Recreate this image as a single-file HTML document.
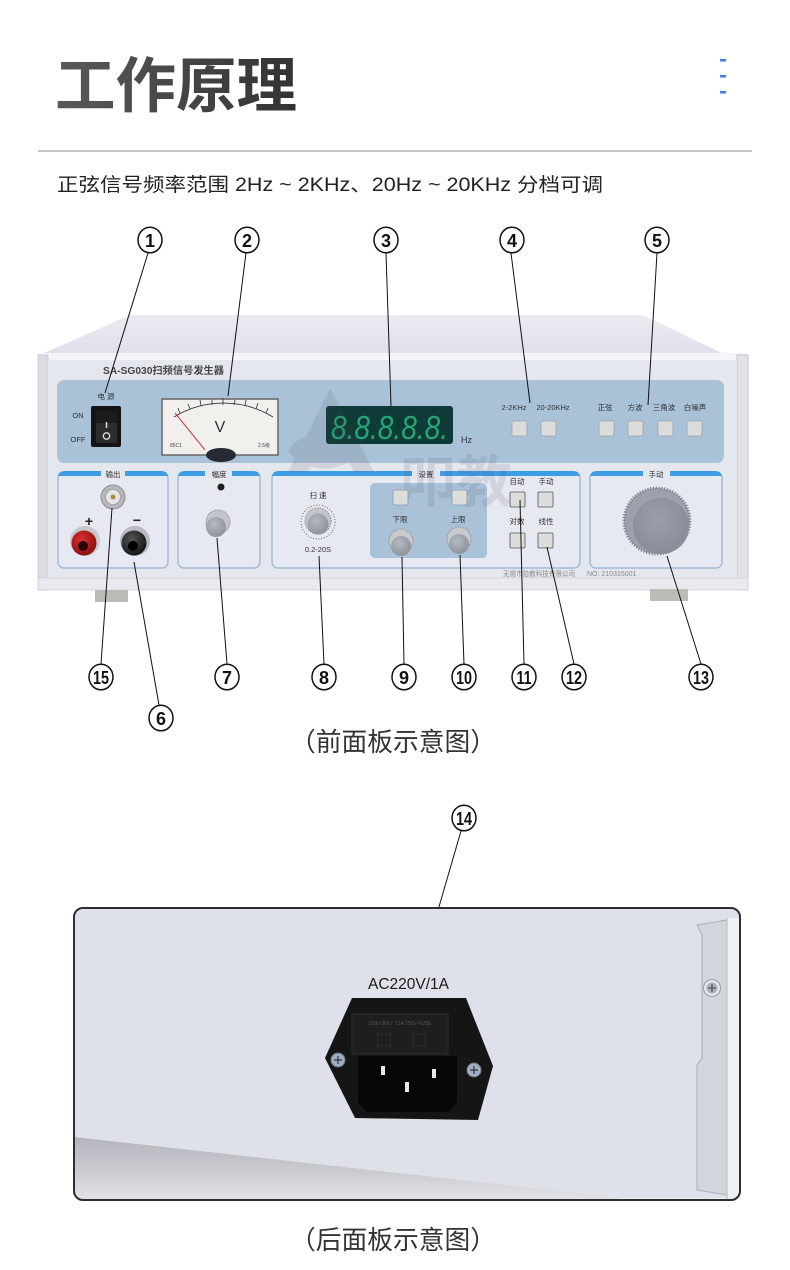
<!DOCTYPE html>
<html><head><meta charset="utf-8">
<style>
html,body{margin:0;padding:0;background:#fff;}
svg{display:block;}
text{font-family:"Liberation Sans","Noto Sans CJK SC",sans-serif;}
.cjk{font-family:"Liberation Sans","Noto Sans CJK SC",sans-serif;}
.num{font-family:"Liberation Sans",sans-serif;font-weight:bold;font-size:18px;fill:#111;text-anchor:middle;}
.lbl{font-size:7.5px;fill:#333;text-anchor:middle;}
</style></head>
<body>
<svg width="790" height="1270" viewBox="0 0 790 1270" xmlns="http://www.w3.org/2000/svg">
<defs>
<linearGradient id="topg" x1="0" y1="0" x2="0" y2="1"><stop offset="0" stop-color="#ebebf3"/><stop offset="1" stop-color="#e0e0eb"/></linearGradient>
<linearGradient id="titleg" x1="0" y1="0" x2="1" y2="0"><stop offset="0" stop-color="#5a5a5a"/><stop offset="1" stop-color="#333"/></linearGradient>
<linearGradient id="shad" x1="0" y1="0" x2="0" y2="1"><stop offset="0" stop-color="#b4b4bc"/><stop offset="0.5" stop-color="#c8c8cf"/><stop offset="1" stop-color="#e2e2e7"/></linearGradient>
<radialGradient id="knobg" cx="0.4" cy="0.35" r="0.7"><stop offset="0" stop-color="#b4b8c0"/><stop offset="1" stop-color="#8c909a"/></radialGradient>
<radialGradient id="bigk" cx="0.45" cy="0.4" r="0.7"><stop offset="0" stop-color="#9a9faa"/><stop offset="1" stop-color="#858a95"/></radialGradient>
<radialGradient id="redg" cx="0.4" cy="0.35" r="0.7"><stop offset="0" stop-color="#d83030"/><stop offset="1" stop-color="#8a0d0d"/></radialGradient>
<radialGradient id="blkg" cx="0.4" cy="0.35" r="0.7"><stop offset="0" stop-color="#555"/><stop offset="1" stop-color="#111"/></radialGradient>
</defs>

<!-- Header -->
<text x="55" y="107" class="cjk" font-size="60" font-weight="bold" fill="url(#titleg)" textLength="242" lengthAdjust="spacingAndGlyphs">工作原理</text>
<rect x="720" y="59" width="6" height="2.5" fill="#3f7fe8"/>
<rect x="720" y="75" width="6" height="2.5" fill="#3f7fe8"/>
<rect x="720" y="91" width="6" height="2.5" fill="#3f7fe8"/>
<line x1="38" y1="151" x2="752" y2="151" stroke="#c6c6c6" stroke-width="2"/>
<text x="57" y="191" class="cjk" font-size="19" fill="#222" textLength="546" lengthAdjust="spacingAndGlyphs">正弦信号频率范围 2Hz ~ 2KHz、20Hz ~ 20KHz 分档可调</text>

<!-- Device top surface -->
<polygon points="130,315 643,315 724,354 42,354" fill="url(#topg)"/>
<!-- Front frame -->
<rect x="38" y="353" width="710" height="237" fill="#e6e7ee"/>
<rect x="38" y="353" width="710" height="7" fill="#f5f5f9"/>
<rect x="38" y="355" width="10" height="235" fill="#dcdde4" stroke="#c4c5cc" stroke-width="0.8"/>
<rect x="737" y="355" width="11" height="235" fill="#e2e3ea" stroke="#b8b9c0" stroke-width="0.8"/>
<rect x="48" y="360" width="689" height="218" fill="#e5e7ef"/>
<rect x="38" y="578" width="710" height="12" fill="#e9eaef" stroke="#cfd0d6" stroke-width="0.8"/>
<!-- feet -->
<rect x="95" y="590" width="33" height="12" fill="#b9bdb6"/>
<rect x="650" y="589" width="38" height="12" fill="#b9bdb6"/>

<text x="103" y="374" font-size="10" fill="#444" font-weight="bold" textLength="121" lengthAdjust="spacingAndGlyphs">SA-SG030扫频信号发生器</text>

<!-- Upper blue panel -->
<rect x="57" y="380" width="667" height="83" rx="7" fill="#aac2d8"/>

<!-- Power switch -->
<text x="106" y="399" class="lbl">电 源</text>
<text x="78" y="418" class="lbl">ON</text>
<text x="78" y="442" class="lbl">OFF</text>
<rect x="91" y="406" width="30" height="41" rx="2" fill="#141414"/>
<rect x="96" y="411" width="21" height="32" rx="1.5" fill="#2c2c2c"/>
<rect x="96" y="411" width="21" height="12" fill="#1c1c1c"/>
<line x1="106.5" y1="422" x2="106.5" y2="428" stroke="#ddd" stroke-width="1.5"/>
<circle cx="106.5" cy="436" r="3.2" fill="none" stroke="#ddd" stroke-width="1.3"/>

<!-- Meter -->
<rect x="162" y="399" width="116" height="56" fill="#f1f0ec" stroke="#666" stroke-width="1.5"/>
<path d="M174,417 A95,95 0 0 1 273,417" fill="none" stroke="#333" stroke-width="0.9"/>
<g stroke="#333" stroke-width="0.8">
<line x1="180" y1="413" x2="178" y2="408"/><line x1="190" y1="409" x2="188" y2="404"/>
<line x1="201" y1="406" x2="200" y2="400"/><line x1="212" y1="405" x2="212" y2="400"/>
<line x1="223" y1="405" x2="223" y2="398"/><line x1="234" y1="405" x2="235" y2="400"/>
<line x1="245" y1="406" x2="246" y2="400"/><line x1="256" y1="409" x2="258" y2="403"/>
<line x1="266" y1="413" x2="268" y2="408"/>
</g>
<text x="220" y="432" font-size="16" fill="#333" text-anchor="middle">V</text>
<ellipse cx="221" cy="455" rx="15" ry="7" fill="#252a33"/>
<line x1="175" y1="413" x2="205" y2="450" stroke="#c84040" stroke-width="1"/>
<text x="170" y="447" font-size="5" fill="#444">85C1</text>
<text x="258" y="447" font-size="5" fill="#444">2.5级</text>

<!-- LED -->
<rect x="326" y="406" width="127" height="38" rx="3" fill="#0e3a37"/>
<text x="331" y="439" font-size="33" fill="#27a374" font-style="italic" textLength="117" lengthAdjust="spacingAndGlyphs">8.8.8.8.8.</text>
<text x="461" y="443" font-size="9" fill="#333">Hz</text>

<!-- upper buttons -->
<text x="514" y="410" class="lbl">2-2KHz</text>
<text x="553" y="410" class="lbl">20-20KHz</text>
<text x="605" y="410" class="lbl">正弦</text>
<text x="635" y="410" class="lbl">方波</text>
<text x="664" y="410" class="lbl">三角波</text>
<text x="695" y="410" class="lbl">白噪声</text>
<g fill="#dcdcdb" stroke="#9aa2ad" stroke-width="0.8">
<rect x="512" y="421" width="15" height="15" rx="1.5"/>
<rect x="541" y="421" width="15" height="15" rx="1.5"/>
<rect x="599" y="421" width="15" height="15" rx="1.5"/>
<rect x="628" y="421" width="15" height="15" rx="1.5"/>
<rect x="658" y="421" width="15" height="15" rx="1.5"/>
<rect x="687" y="421" width="15" height="15" rx="1.5"/>
</g>

<!-- Lower boxes -->
<g fill="#e6e9f2" stroke="#a3bcd6" stroke-width="1.5">
<rect x="58" y="472" width="110" height="96" rx="6"/>
<rect x="178" y="472" width="82" height="96" rx="6"/>
<rect x="272" y="472" width="308" height="96" rx="6"/>
<rect x="590" y="472" width="132" height="96" rx="6"/>
</g>
<g fill="#3d9de6">
<path d="M58,478 Q58,471 65,471 L101,471 L101,476 L58,476 Z"/>
<path d="M125,471 L161,471 Q168,471 168,478 L168,476 L125,476 Z"/>
<path d="M178,478 Q178,471 185,471 L205,471 L205,476 L178,476 Z"/>
<path d="M232,471 L253,471 Q260,471 260,478 L260,476 L232,476 Z"/>
<path d="M272,478 Q272,471 279,471 L412,471 L412,476 L272,476 Z"/>
<path d="M440,471 L573,471 Q580,471 580,478 L580,476 L440,476 Z"/>
<path d="M590,478 Q590,471 597,471 L643,471 L643,476 L590,476 Z"/>
<path d="M670,471 L715,471 Q722,471 722,478 L722,476 L670,476 Z"/>
</g>
<rect x="101" y="468" width="24" height="10" fill="#e5e7ef"/>
<rect x="205" y="468" width="27" height="10" fill="#e5e7ef"/>
<rect x="412" y="468" width="28" height="10" fill="#e5e7ef"/>
<rect x="643" y="468" width="27" height="10" fill="#e5e7ef"/>
<text x="113" y="477" class="lbl">输出</text>
<text x="219" y="477" class="lbl">幅度</text>
<text x="426" y="477" class="lbl">设置</text>
<text x="656" y="477" class="lbl">手动</text>

<!-- 设置 inner panel -->
<rect x="370" y="483" width="117" height="75" rx="5" fill="#aac2d8"/>

<!-- watermark (on top, faint) -->
<g opacity="0.13" fill="#4a505c">
<polygon points="330,388 374,472 354,472 330,428 308,472 288,472"/>
<path d="M288,452 Q300,428 338,437 Q365,446 348,462 Q330,474 302,464 Z"/>
<text x="400" y="502" font-size="56" font-weight="bold" class="cjk">叩教</text>
</g>

<!-- Output terminals -->
<circle cx="113" cy="497" r="12" fill="#b5b7bd" stroke="#8d9097" stroke-width="1"/>
<circle cx="113" cy="497" r="7.5" fill="#e4e5e8" stroke="#999" stroke-width="0.8"/>
<circle cx="113" cy="497" r="2.5" fill="#b08a3a"/>
<text x="89" y="526" font-size="14" font-weight="bold" fill="#222" text-anchor="middle">+</text>
<text x="137" y="525" font-size="14" font-weight="bold" fill="#222" text-anchor="middle">−</text>
<circle cx="85" cy="541" r="15" fill="#c7c8cc"/>
<circle cx="84" cy="543" r="12.5" fill="url(#redg)"/>
<circle cx="83" cy="546" r="5" fill="#2a0505"/>
<circle cx="135" cy="541" r="15" fill="#b9babf"/>
<circle cx="134" cy="543" r="12.5" fill="url(#blkg)"/>
<circle cx="133" cy="546" r="5" fill="#000"/>

<!-- 幅度 -->
<circle cx="221" cy="487" r="3.5" fill="#1e1e1e"/>
<circle cx="218" cy="522" r="12" fill="#c4c5c8" stroke="#8d9097" stroke-width="1" stroke-dasharray="1.5,1"/>
<circle cx="216" cy="527" r="10" fill="url(#knobg)"/>

<!-- 扫速 -->
<text x="318" y="498" class="lbl">扫 速</text>
<circle cx="318" cy="522" r="17" fill="none" stroke="#555" stroke-width="0.9" stroke-dasharray="1,1.8"/>
<circle cx="318" cy="521" r="13" fill="#c4c5c8" stroke="#8d9097" stroke-width="1" stroke-dasharray="1.5,1"/>
<circle cx="318" cy="524" r="10.5" fill="url(#knobg)"/>
<text x="318" y="552" class="lbl">0.2-20S</text>

<!-- 下限 上限 -->
<g fill="#dcdcdb" stroke="#8e98a5" stroke-width="0.8">
<rect x="393" y="490" width="15" height="15" rx="1.5"/>
<rect x="452" y="490" width="15" height="15" rx="1.5"/>
</g>
<text x="400" y="522" class="lbl">下限</text>
<text x="458" y="522" class="lbl">上限</text>
<circle cx="401" cy="541" r="12" fill="#c8c9cc" stroke="#8d9097" stroke-width="1" stroke-dasharray="1.5,1"/>
<circle cx="401" cy="546" r="10" fill="url(#knobg)"/>
<circle cx="459" cy="539" r="12" fill="#c8c9cc" stroke="#8d9097" stroke-width="1" stroke-dasharray="1.5,1"/>
<circle cx="459" cy="544" r="10" fill="url(#knobg)"/>

<!-- auto / manual buttons -->
<text x="517" y="484" class="lbl">自动</text>
<text x="546" y="484" class="lbl">手动</text>
<text x="517" y="524" class="lbl">对数</text>
<text x="546" y="524" class="lbl">线性</text>
<g fill="#dcdcdb" stroke="#555" stroke-width="0.8">
<rect x="510" y="492" width="15" height="15" rx="1"/>
<rect x="538" y="492" width="15" height="15" rx="1"/>
<rect x="510" y="533" width="15" height="15" rx="1"/>
<rect x="538" y="533" width="15" height="15" rx="1"/>
</g>

<!-- big knob -->
<circle cx="657" cy="521" r="33" fill="#9da1ab" stroke="#7f848e" stroke-width="3" stroke-dasharray="1.2,1.6"/>
<circle cx="661" cy="526" r="28" fill="url(#bigk)"/>

<text x="503" y="576" font-size="7" fill="#8a8a8a" textLength="72" lengthAdjust="spacingAndGlyphs" class="cjk">无锡市拾教科技有限公司</text>
<text x="587" y="576" font-size="7" fill="#8a8a8a" font-family="Liberation Serif,serif">NO: 210315001</text>

<!-- callout lines front -->
<g stroke="#111" stroke-width="1">
<line x1="148" y1="253" x2="105" y2="393"/>
<line x1="246" y1="253" x2="228" y2="396"/>
<line x1="386" y1="253" x2="391" y2="406"/>
<line x1="511" y1="253" x2="530" y2="403"/>
<line x1="657" y1="253" x2="648" y2="405"/>
<line x1="112" y1="508" x2="101" y2="664"/>
<line x1="134" y1="562" x2="159" y2="705"/>
<line x1="217" y1="538" x2="227" y2="664"/>
<line x1="319" y1="556" x2="324" y2="664"/>
<line x1="402" y1="557" x2="404" y2="664"/>
<line x1="460" y1="555" x2="464" y2="664"/>
<line x1="520" y1="500" x2="524" y2="664"/>
<line x1="547" y1="547" x2="574" y2="664"/>
<line x1="667" y1="556" x2="701" y2="664"/>
<line x1="461" y1="831" x2="416" y2="986"/>
</g>

<!-- numbered circles -->
<g fill="#fff" stroke="#111" stroke-width="1.5">
<ellipse cx="150" cy="240" rx="12" ry="12.8"/>
<ellipse cx="247" cy="240" rx="12" ry="12.8"/>
<ellipse cx="386" cy="240" rx="12" ry="12.8"/>
<ellipse cx="512" cy="240" rx="12" ry="12.8"/>
<ellipse cx="657" cy="240" rx="12" ry="12.8"/>
<ellipse cx="101" cy="677" rx="12" ry="12.8"/>
<ellipse cx="227" cy="677" rx="12" ry="12.8"/>
<ellipse cx="324" cy="677" rx="12" ry="12.8"/>
<ellipse cx="404" cy="677" rx="12" ry="12.8"/>
<ellipse cx="464" cy="677" rx="12" ry="12.8"/>
<ellipse cx="524" cy="677" rx="12" ry="12.8"/>
<ellipse cx="574" cy="677" rx="12" ry="12.8"/>
<ellipse cx="701" cy="677" rx="12" ry="12.8"/>
<ellipse cx="161" cy="718" rx="12" ry="12.8"/>
<ellipse cx="464" cy="818" rx="12" ry="12.8"/>
</g>
<text x="150" y="247" class="num">1</text>
<text x="247" y="247" class="num">2</text>
<text x="386" y="247" class="num">3</text>
<text x="512" y="247" class="num">4</text>
<text x="657" y="247" class="num">5</text>
<text x="101" y="684" class="num" textLength="16" lengthAdjust="spacingAndGlyphs">15</text>
<text x="227" y="684" class="num">7</text>
<text x="324" y="684" class="num">8</text>
<text x="404" y="684" class="num">9</text>
<text x="464" y="684" class="num" textLength="16" lengthAdjust="spacingAndGlyphs">10</text>
<text x="524" y="684" class="num" textLength="15" lengthAdjust="spacingAndGlyphs">11</text>
<text x="574" y="684" class="num" textLength="16" lengthAdjust="spacingAndGlyphs">12</text>
<text x="701" y="684" class="num" textLength="16" lengthAdjust="spacingAndGlyphs">13</text>
<text x="161" y="725" class="num">6</text>
<text x="464" y="825" class="num" textLength="16" lengthAdjust="spacingAndGlyphs">14</text>

<text x="290" y="751" class="cjk" font-size="26" fill="#333" textLength="206" lengthAdjust="spacingAndGlyphs">（前面板示意图）</text>

<!-- Rear panel -->
<clipPath id="rc"><rect x="74" y="908" width="666" height="292" rx="9"/></clipPath>
<g clip-path="url(#rc)">
<rect x="74" y="908" width="666" height="292" fill="#dfe1ea"/>
<polygon points="74,1137 640,1200 74,1200" fill="url(#shad)"/>
<polygon points="620,1198 740,1198 740,1205 620,1205" fill="#eeeef0"/>
<!-- right bracket -->
<path d="M697,925 L727,920 L727,1195 L697,1190 L697,1065 L702,1058 L702,935 Z" fill="#d3d5dd" stroke="#aeb0b8" stroke-width="1"/>
<rect x="727" y="918" width="13" height="282" fill="#eef0f4"/>
<line x1="727" y1="918" x2="727" y2="1200" stroke="#b8bac2" stroke-width="1"/>
<circle cx="712" cy="988" r="8.5" fill="#e2e4ea" stroke="#9a9ca4" stroke-width="1"/>
<circle cx="712" cy="988" r="5.5" fill="#a7b0bc"/>
<path d="M708,988 h8 M712,984 v8" stroke="#555" stroke-width="1.3"/>
</g>
<rect x="74" y="908" width="666" height="292" rx="9" fill="none" stroke="#2e2e2e" stroke-width="2"/>

<text x="368" y="989" font-size="16" fill="#1a1a1a" textLength="81" lengthAdjust="spacingAndGlyphs">AC220V/1A</text>
<!-- socket -->
<polygon points="352,998 466,998 493,1066 478,1120 355,1118 325,1058" fill="#151515"/>
<rect x="352" y="1014" width="96" height="40" fill="#1e1e1e" stroke="#2e2e2e" stroke-width="1"/>
<text x="400" y="1025" font-size="5" fill="#555" text-anchor="middle">USE ONLY T1A 250V FUSE</text>
<rect x="378" y="1034" width="12" height="12" fill="none" stroke="#333" stroke-width="0.8"/>
<rect x="413" y="1034" width="12" height="12" fill="none" stroke="#333" stroke-width="0.8"/>
<path d="M358,1056 L457,1056 L457,1102 L448,1112 L367,1112 L358,1102 Z" fill="#060606"/>
<rect x="381" y="1066" width="4" height="9" fill="#e8e8e8"/>
<rect x="432" y="1069" width="4" height="9" fill="#e8e8e8"/>
<rect x="405" y="1082" width="4" height="10" fill="#e8e8e8"/>
<circle cx="338" cy="1060" r="7" fill="#9fb0c4" stroke="#6a7580" stroke-width="1"/>
<path d="M334,1060 h8 M338,1056 v8" stroke="#333" stroke-width="1.2"/>
<circle cx="474" cy="1070" r="7" fill="#9fb0c4" stroke="#6a7580" stroke-width="1"/>
<path d="M470,1070 h8 M474,1066 v8" stroke="#333" stroke-width="1.2"/>

<text x="290" y="1249" class="cjk" font-size="26" fill="#333" textLength="206" lengthAdjust="spacingAndGlyphs">（后面板示意图）</text>
</svg>
</body></html>
